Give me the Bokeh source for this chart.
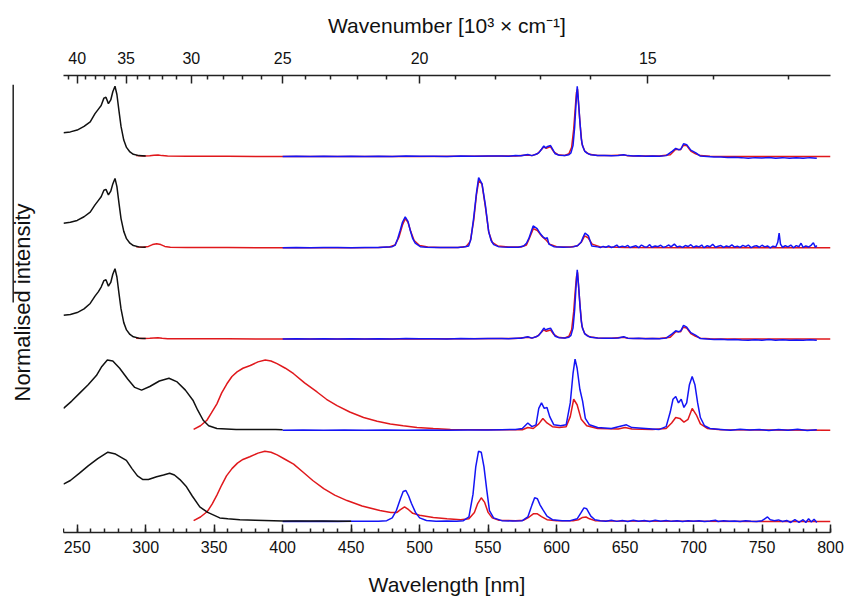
from math import pi
from bokeh.plotting import figure
from bokeh.layouts import row
from bokeh.core.properties import value
from bokeh.models import (LinearAxis, FixedTicker, SingleIntervalTicker,
                          CustomJSTickFormatter, Range1d)
from bokeh.embed import file_html
from bokeh.resources import INLINE

# ---------------- data (wavelength nm, normalised intensity) ----------------
panel_offsets = [4, 3, 2, 1, 0]          # stacking of the five panels, top to bottom

top_major_k = [40, 35, 30, 25, 20, 15]   # wavenumber labels, 10^3 cm^-1
top_minor_k = [41, 39, 38, 37, 36, 34, 33, 32, 31, 29, 28, 27, 26,
               24, 23, 22, 21, 19, 18, 17, 16, 14, 13]

p1_exc = [(240, 0.26), (245, 0.27), (250, 0.29), (255, 0.33), (259.5, 0.38), (263, 0.47),
          (265.5, 0.52), (267.5, 0.56), (269.5, 0.64), (271, 0.65), (272.8, 0.58), (274.5, 0.62),
          (276, 0.71), (277.6, 0.77), (279, 0.68), (280.5, 0.5), (282, 0.33), (284, 0.18),
          (286, 0.1), (288.5, 0.05), (291, 0.025), (295, 0.01), (300, 0.005)]
p1_red = [(293, 0.01), (298, 0.005), (303, 0.008), (306, 0.015), (309, 0.018), (312, 0.01),
          (316, 0.005), (330, 0.003), (360, 0.002), (400, 0.0), (500, 0.0), (570, 0.005),
          (579, 0.018), (582, 0.01), (586, 0.03), (588, 0.06), (590.5, 0.105), (592.5, 0.09),
          (595.5, 0.11), (598, 0.05), (601, 0.02), (606, 0.012), (609, 0.03), (611, 0.1),
          (612.5, 0.3), (613.5, 0.5), (614.5, 0.7), (615.3, 0.74), (616.2, 0.55), (617.2, 0.35),
          (618.5, 0.14), (620.5, 0.06), (624, 0.025), (630, 0.012), (640, 0.01), (649, 0.018),
          (652, 0.008), (660, 0.005), (675, 0.005), (683, 0.02), (685, 0.05), (687, 0.08),
          (690.5, 0.075), (692.5, 0.12), (695, 0.12), (698, 0.06), (701.5, 0.03), (705, 0.01),
          (712, 0.003), (730, 0.0), (800, 0.0)]
p1_blue = [(400, 0.0), (410, 0.003), (420, 0.0), (430, 0.004), (440, 0.0), (450, 0.003),
           (460, 0.0), (470, 0.004), (480, 0.0), (490, 0.005), (500, 0.002), (510, 0.004),
           (520, 0.0), (530, 0.006), (540, 0.002), (550, 0.005), (560, 0.006), (565, 0.004),
           (570, 0.01), (574, 0.008), (579, 0.022), (582, 0.01), (585, 0.025), (587, 0.04),
           (589, 0.08), (590.7, 0.115), (592, 0.095), (593.5, 0.11), (595.6, 0.12), (597.5, 0.07),
           (599, 0.03), (602, 0.015), (606, 0.012), (609, 0.02), (610.5, 0.04), (612, 0.12),
           (613.2, 0.32), (614.2, 0.58), (615.1, 0.77), (616, 0.6), (617, 0.39), (618, 0.2),
           (619, 0.115), (620.5, 0.06), (622.5, 0.035), (625, 0.02), (630, 0.012), (635, 0.01),
           (640, 0.008), (645, 0.012), (649, 0.02), (652, 0.01), (656, 0.006), (660, 0.008),
           (665, 0.004), (670, 0.006), (675, 0.002), (680, 0.01), (684.6, 0.06), (687, 0.09),
           (689, 0.075), (690.7, 0.08), (692.7, 0.14), (695, 0.13), (698, 0.07), (701.7, 0.04),
           (705, 0.005), (710, 0.0), (715, -0.005), (720, -0.004), (725, -0.01), (730, -0.008),
           (735, -0.012), (740, -0.02), (745, -0.012), (750, -0.015), (755, -0.01), (760, -0.018),
           (765, -0.012), (770, -0.02), (775, -0.014), (780, -0.02), (785, -0.012), (790, -0.018)]

p2_exc = [(240, 0.27), (245, 0.28), (250, 0.3), (255, 0.34), (259.5, 0.39), (263, 0.47),
          (265.5, 0.52), (267.5, 0.56), (269.5, 0.63), (271, 0.64), (272.8, 0.58), (274.5, 0.62),
          (276, 0.7), (277.6, 0.76), (279, 0.67), (280.5, 0.49), (282, 0.32), (284, 0.18),
          (286, 0.1), (288.5, 0.05), (291, 0.025), (295, 0.01), (300, 0.005)]
p2_red = [(293, 0.01), (298, 0.005), (302, 0.015), (305, 0.035), (308, 0.045), (311, 0.035),
          (314, 0.015), (318, 0.006), (330, 0.003), (360, 0.002), (400, 0.0), (450, 0.0),
          (470, 0.003), (478, 0.008), (482, 0.03), (485, 0.12), (487.5, 0.25), (489.5, 0.32),
          (491.5, 0.28), (493.5, 0.18), (496, 0.08), (500, 0.025), (506, 0.008), (515, 0.003),
          (528, 0.004), (534, 0.015), (537, 0.07), (539.5, 0.3), (541.5, 0.58), (543.2, 0.74),
          (545.5, 0.7), (548, 0.45), (550.5, 0.17), (553, 0.06), (557, 0.02), (565, 0.008),
          (574, 0.008), (578, 0.03), (580, 0.1), (583, 0.21), (586, 0.19), (589, 0.13),
          (592, 0.09), (595, 0.04), (600, 0.012), (610, 0.008), (615, 0.02), (618, 0.06),
          (620.5, 0.13), (623, 0.11), (626, 0.04), (632, 0.01), (650, 0.004), (700, 0.0),
          (800, 0.0)]
p2_blue = [(400, 0.0), (410, 0.003), (420, 0.0), (430, 0.004), (440, 0.002), (450, 0.0),
           (460, 0.004), (470, 0.002), (476, 0.008), (480, 0.012), (482.2, 0.03), (484, 0.1),
           (485.8, 0.19), (487.5, 0.28), (489.5, 0.34), (491.5, 0.29), (493.2, 0.19), (495, 0.1),
           (496.8, 0.05), (500.5, 0.012), (505, 0.005), (512, 0.002), (520, 0.004), (528, 0.002),
           (532, 0.008), (535.8, 0.02), (537.5, 0.1), (539.5, 0.33), (541.5, 0.6), (543.1, 0.77),
           (545.6, 0.7), (548, 0.47), (550.4, 0.18), (552.2, 0.08), (554.1, 0.035), (558, 0.01),
           (565, 0.005), (572, 0.006), (576, 0.02), (578, 0.05), (579.7, 0.1), (582.9, 0.24),
           (585.8, 0.21), (588.3, 0.15), (590, 0.12), (591.9, 0.1), (593.2, 0.11), (594.4, 0.04),
           (598, 0.012), (605, 0.006), (612, 0.01), (615.5, 0.025), (617.9, 0.06), (619.5, 0.12),
           (620.8, 0.16), (623.3, 0.13), (625.7, 0.02), (630, 0.01), (632, 0.004), (634, 0.015),
           (636, 0.006), (638, 0.02), (640, 0.003), (642, 0.012), (644, 0.03), (645.5, 0.005),
           (648, 0.018), (650, 0.01), (652, 0.026), (653.5, 0.004), (656, 0.014), (658, 0.022),
           (660, 0.002), (662, 0.03), (664, 0.012), (666, 0.008), (668, 0.035), (669.5, 0.006),
           (672, 0.02), (674, 0.012), (676, 0.028), (678, 0.004), (680, 0.016), (682, 0.03),
           (683.5, 0.01), (686, 0.04), (688, 0.008), (690, 0.018), (692, 0.005), (694, 0.025),
           (696, 0.014), (698, 0.034), (700, 0.006), (702, 0.02), (704, 0.01), (706, 0.03),
           (707.5, 0.002), (710, 0.022), (712, 0.012), (714, 0.038), (716, 0.006), (718, 0.016),
           (720, 0.024), (722, 0.004), (724, 0.02), (726, 0.01), (728, 0.032), (730, 0.008),
           (732, 0.018), (734, 0.004), (736, 0.026), (738, 0.012), (740, 0.03), (742, 0.002),
           (744, 0.016), (746, 0.022), (748, 0.006), (750, 0.028), (752, 0.01), (754, 0.02),
           (756, 0.0), (758, 0.018), (760, 0.008), (761.5, 0.06), (762.5, 0.16), (763.5, 0.04),
           (765, 0.006), (767, 0.022), (769, 0.01), (771, 0.03), (773, 0.0), (775, 0.024),
           (777, 0.012), (778.5, 0.05), (780, 0.004), (782, 0.02), (784, 0.008), (786, 0.03),
           (787.5, 0.055), (789, 0.005), (790, 0.025)]

p3_exc = [(240, 0.26), (245, 0.27), (250, 0.29), (255, 0.33), (259.5, 0.39), (263, 0.47),
          (265.5, 0.52), (267.5, 0.57), (269.5, 0.64), (271, 0.65), (272.8, 0.58), (274.5, 0.62),
          (276, 0.71), (277.6, 0.77), (279, 0.68), (280.5, 0.5), (282, 0.33), (284, 0.18),
          (286, 0.1), (288.5, 0.05), (291, 0.025), (295, 0.01), (300, 0.005)]
p3_red = [(293, 0.01), (298, 0.005), (303, 0.008), (306, 0.012), (309, 0.015), (312, 0.008),
          (316, 0.004), (330, 0.003), (360, 0.002), (400, 0.0), (500, 0.0), (570, 0.005),
          (579, 0.02), (582, 0.01), (586, 0.03), (588, 0.06), (590.5, 0.1), (592.5, 0.085),
          (595.5, 0.1), (598, 0.05), (601, 0.02), (606, 0.012), (609, 0.03), (611, 0.1),
          (612.5, 0.3), (613.5, 0.5), (614.5, 0.68), (615.3, 0.73), (616.2, 0.55), (617.2, 0.35),
          (618.5, 0.14), (620.5, 0.06), (624, 0.025), (630, 0.012), (640, 0.01), (649, 0.02),
          (652, 0.008), (660, 0.005), (675, 0.005), (683, 0.02), (685, 0.05), (687, 0.08),
          (690.5, 0.08), (692.5, 0.13), (695, 0.12), (698, 0.06), (701.5, 0.03), (705, 0.01),
          (712, 0.003), (730, 0.0), (800, 0.0)]
p3_blue = [(400, 0.0), (410, 0.003), (420, 0.0), (430, 0.004), (440, 0.0), (450, 0.003),
           (460, 0.0), (470, 0.004), (480, 0.0), (490, 0.005), (500, 0.002), (510, 0.004),
           (520, 0.0), (530, 0.006), (540, 0.002), (550, 0.005), (560, 0.006), (565, 0.004),
           (570, 0.01), (574, 0.008), (579, 0.025), (582, 0.01), (585, 0.025), (587, 0.04),
           (589, 0.08), (590.7, 0.12), (592, 0.1), (593.5, 0.11), (595.6, 0.12), (597.5, 0.07),
           (599, 0.03), (602, 0.015), (606, 0.012), (609, 0.02), (610.5, 0.04), (612, 0.12),
           (613.2, 0.32), (614.2, 0.57), (615.1, 0.76), (616, 0.6), (617, 0.39), (618, 0.2),
           (619, 0.115), (620.5, 0.06), (622.5, 0.035), (625, 0.02), (630, 0.012), (635, 0.01),
           (640, 0.008), (645, 0.012), (649, 0.025), (652, 0.01), (656, 0.006), (660, 0.008),
           (665, 0.004), (670, 0.006), (675, 0.002), (680, 0.01), (684.6, 0.06), (687, 0.09),
           (689, 0.08), (690.7, 0.09), (692.7, 0.15), (695, 0.13), (698, 0.07), (701.7, 0.04),
           (705, 0.005), (710, 0.0), (715, -0.004), (720, -0.002), (725, -0.008), (730, -0.006),
           (735, -0.01), (740, -0.012), (745, -0.008), (750, -0.012), (755, -0.006), (760, -0.012),
           (765, -0.008), (770, -0.014), (775, -0.01), (780, -0.014), (785, -0.008), (790, -0.012)]

p4_exc = [(240, 0.24), (246, 0.32), (252, 0.41), (258, 0.5), (264, 0.6), (268, 0.7),
          (272, 0.77), (276, 0.76), (281, 0.68), (287, 0.56), (292, 0.47), (297, 0.44),
          (303, 0.48), (310, 0.54), (317, 0.57), (323, 0.53), (329, 0.44), (334.5, 0.33),
          (338, 0.22), (342, 0.11), (346, 0.05), (352, 0.02), (366, 0.008), (380, 0.01),
          (395, 0.01), (400, 0.005)]
p4_red = [(335, 0.01), (340, 0.05), (344.7, 0.11), (348, 0.19), (352, 0.29), (355.5, 0.41),
          (359.3, 0.51), (363, 0.59), (366.7, 0.64), (371, 0.68), (376.4, 0.71), (382, 0.75),
          (387.3, 0.77), (391.5, 0.76), (395.9, 0.73), (402, 0.68), (408, 0.62), (416, 0.52),
          (425.1, 0.42), (432, 0.34), (439.7, 0.27), (449, 0.2), (459.1, 0.14), (469, 0.1),
          (478.6, 0.07), (488, 0.05), (498.1, 0.03), (510, 0.02), (522.5, 0.01), (545, 0.006),
          (570, 0.005), (575, 0.006), (579, 0.03), (583, 0.02), (587, 0.07), (590, 0.13),
          (593, 0.08), (597, 0.04), (602, 0.03), (607, 0.04), (610, 0.15), (612.5, 0.34),
          (615, 0.28), (618, 0.12), (622, 0.05), (630, 0.02), (645, 0.015), (650, 0.03),
          (655, 0.015), (670, 0.01), (680, 0.02), (684, 0.08), (687, 0.14), (690, 0.13),
          (693, 0.09), (696, 0.12), (699, 0.24), (702, 0.17), (705, 0.07), (710, 0.02),
          (720, 0.005), (800, 0.0)]
p4_blue = [(400, 0.0), (415, 0.003), (430, 0.0), (445, 0.004), (460, 0.0), (475, 0.003),
           (490, 0.0), (505, 0.004), (520, 0.0), (535, 0.004), (550, 0.002), (560, 0.006),
           (570, 0.01), (575, 0.02), (579, 0.08), (582, 0.04), (585, 0.06), (587, 0.24),
           (589, 0.3), (591, 0.24), (593, 0.25), (595, 0.15), (598, 0.06), (603, 0.05),
           (607, 0.06), (610, 0.3), (612, 0.62), (613.5, 0.78), (615, 0.68), (617, 0.45),
           (619, 0.32), (621, 0.13), (624, 0.06), (630, 0.03), (640, 0.02), (648, 0.05),
           (651, 0.06), (655, 0.03), (665, 0.02), (675, 0.01), (680, 0.04), (683, 0.2),
           (685, 0.34), (687, 0.37), (689, 0.3), (691, 0.34), (693, 0.25), (695, 0.3),
           (697, 0.5), (699, 0.59), (701, 0.5), (703, 0.3), (705, 0.14), (708, 0.05),
           (712, 0.02), (720, 0.01), (727, 0.0), (734, 0.012), (741, 0.002), (748, 0.01),
           (755, -0.002), (762, 0.008), (769, 0.0), (776, 0.012), (783, -0.002), (790, 0.006)]

p5_exc = [(240, 0.41), (245, 0.45), (251.7, 0.53), (258, 0.61), (265, 0.69), (272.4, 0.76),
          (278, 0.74), (285.9, 0.67), (290, 0.58), (294, 0.5), (298, 0.46), (302, 0.46),
          (308, 0.49), (313, 0.51), (317.5, 0.53), (321, 0.51), (325, 0.46), (329.8, 0.38),
          (334, 0.28), (339.5, 0.16), (345.3, 0.1), (354.1, 0.04), (360, 0.03), (368.8, 0.02),
          (380, 0.015), (400, 0.006), (425, 0.005), (450, 0.004)]
p5_red = [(335, 0.01), (340, 0.05), (345, 0.11), (348.5, 0.19), (352, 0.29), (355.5, 0.4),
          (359, 0.5), (363, 0.58), (367, 0.64), (371, 0.68), (376, 0.71), (382, 0.75),
          (387, 0.77), (391.5, 0.76), (396, 0.73), (402, 0.68), (408, 0.63), (415, 0.54),
          (422, 0.45), (430, 0.36), (438, 0.29), (447, 0.23), (458, 0.17), (471, 0.12),
          (479, 0.1), (483.5, 0.1), (486, 0.13), (489, 0.16), (492, 0.13), (495, 0.09),
          (500, 0.07), (510, 0.045), (520, 0.03), (530, 0.02), (536, 0.03), (540, 0.1),
          (542.5, 0.2), (545, 0.26), (547.5, 0.21), (550, 0.1), (553, 0.04), (558, 0.015),
          (570, 0.008), (576, 0.015), (580, 0.05), (583, 0.085), (586, 0.085), (589, 0.055),
          (593, 0.02), (600, 0.008), (612, 0.008), (616, 0.02), (619, 0.045), (621.5, 0.05),
          (624, 0.03), (628, 0.01), (640, 0.005), (700, 0.002), (800, 0.0)]
p5_blue = [(400, 0.0), (410, 0.003), (420, 0.0), (430, 0.004), (440, 0.0), (450, 0.003),
           (460, 0.002), (470, 0.004), (476, 0.01), (480, 0.04), (483, 0.12), (486, 0.25),
           (488, 0.33), (490, 0.34), (492, 0.28), (494, 0.2), (497, 0.1), (500, 0.04),
           (505, 0.012), (512, 0.004), (520, 0.005), (527, 0.003), (532, 0.01), (536, 0.05),
           (539, 0.3), (541, 0.6), (543, 0.77), (545, 0.76), (547, 0.6), (549, 0.35),
           (551, 0.12), (554, 0.04), (560, 0.01), (568, 0.006), (575, 0.01), (579, 0.05),
           (582, 0.18), (584, 0.26), (586, 0.25), (588, 0.18), (590, 0.13), (593, 0.06),
           (597, 0.02), (604, 0.008), (610, 0.01), (615, 0.03), (618, 0.1), (620, 0.15),
           (622, 0.14), (625, 0.06), (628, 0.02), (632, 0.01), (636, 0.004), (640, 0.014),
           (644, 0.002), (648, 0.012), (652, 0.0), (656, 0.014), (660, 0.004), (664, 0.012),
           (668, 0.0), (672, 0.015), (676, 0.004), (680, 0.012), (684, 0.002), (688, 0.01),
           (692, 0.0), (696, 0.01), (700, 0.002), (704, 0.008), (708, 0.0), (712, 0.006),
           (716, 0.014), (718, 0.0), (722, 0.01), (726, 0.002), (730, 0.006), (734, 0.0),
           (738, 0.008), (742, 0.002), (746, 0.0), (750, 0.01), (752, 0.03), (754, 0.05),
           (756, 0.02), (759, 0.01), (762, 0.018), (765, 0.0), (768, 0.012), (771, -0.01),
           (774, 0.02), (777, -0.008), (780, 0.02), (782, -0.01), (784, 0.03), (786, -0.005),
           (788, 0.025), (790, -0.01)]

excitation = [p1_exc, p2_exc, p3_exc, p4_exc, p5_exc]
emission_red = [p1_red, p2_red, p3_red, p4_red, p5_red]
emission_blue = [p1_blue, p2_blue, p3_blue, p4_blue, p5_blue]

y_title = "Normalised intensity"

BLACK = "#111111"
RED = "#e0181c"
BLUE = "#1414f5"
FONT = "Liberation Sans"

STRIP_W = 63      # left strip: stray vertical rule + rotated y title
FULL_W, FULL_H = 846, 598
X0, X1 = 240, 800
Y0, Y1 = -0.12, 4.888
p = figure(width=FULL_W - STRIP_W, height=FULL_H, x_range=Range1d(X0, X1), y_range=Range1d(Y0, Y1),
           output_backend="svg", toolbar_location=None,
           x_axis_location=None, y_axis_location=None,
           min_border_left=0, min_border_right=16, min_border_top=75, min_border_bottom=66)
p.outline_line_color = None
p.grid.visible = False
p.background_fill_color = "white"
p.border_fill_color = "white"


def draw(curve, off, color):
    xs = [c[0] for c in curve]
    ys = [c[1] + off for c in curve]
    p.line(xs, ys, line_color=color, line_width=1.5)


for off, red, blue, exc in zip(panel_offsets, emission_red, emission_blue, excitation):
    draw(red, off, RED)
    draw(blue, off, BLUE)
    draw(exc, off, BLACK)

# bottom wavelength axis
bottom = LinearAxis(ticker=SingleIntervalTicker(interval=50, num_minor_ticks=5),
                    axis_label="Wavelength [nm]")
# top wavenumber axis
top = LinearAxis(ticker=FixedTicker(ticks=[1e4 / k for k in top_major_k],
                                    minor_ticks=[1e4 / k for k in top_minor_k]),
                 formatter=CustomJSTickFormatter(code="return Math.round(10000/tick).toString();"),
                 axis_label="Wavenumber [10\u00b3 \u00d7 cm\u207b\u00b9]")
for ax in (bottom, top):
    ax.axis_line_width = 1.5
    ax.axis_line_color = "#222222"
    ax.major_tick_line_width = 1.5
    ax.minor_tick_line_width = 1.5
    ax.major_tick_line_color = "#222222"
    ax.minor_tick_line_color = "#222222"
    ax.major_tick_in = 8
    ax.major_tick_out = 0
    ax.minor_tick_in = 4
    ax.minor_tick_out = 0
    ax.major_label_text_font = FONT
    ax.major_label_text_font_size = "16px"
    ax.major_label_text_color = "#111111"
    ax.axis_label_text_font = FONT
    ax.axis_label_text_font_size = "21px"
    ax.axis_label_text_font_style = "normal"
    ax.axis_label_text_color = "#111111"
bottom.major_label_standoff = 8
bottom.axis_label_standoff = 17
top.major_label_standoff = 12
top.axis_label_standoff = 12
p.add_layout(bottom, "below")
p.add_layout(top, "above")

# left strip, measured in page pixels (y upwards from the page bottom)
strip = figure(width=STRIP_W, height=FULL_H, x_range=Range1d(0, STRIP_W),
               y_range=Range1d(0, FULL_H), output_backend="svg", toolbar_location=None,
               x_axis_location=None, y_axis_location=None,
               min_border_left=0, min_border_right=0, min_border_top=0, min_border_bottom=0)
strip.outline_line_color = None
strip.grid.visible = False
strip.border_fill_color = "white"
strip.background_fill_color = "white"
rule_x, rule_top, rule_bottom = 12.7, 12, 297      # stray rule of the original page
strip.segment(x0=[rule_x], y0=[FULL_H - rule_top], x1=[rule_x], y1=[FULL_H - rule_bottom],
              line_color="#222222", line_width=1.5)
title_x, title_y = 22, 297                         # centre of the rotated y title
strip.text(x=[title_x], y=[FULL_H - title_y], text=[y_title], angle=pi / 2,
           text_align="center", text_baseline="middle",
           text_font=value(FONT), text_font_size="22px", text_color="#111111")

layout = row(strip, p, spacing=0)
open("out.html", "w").write(file_html(layout, INLINE))
